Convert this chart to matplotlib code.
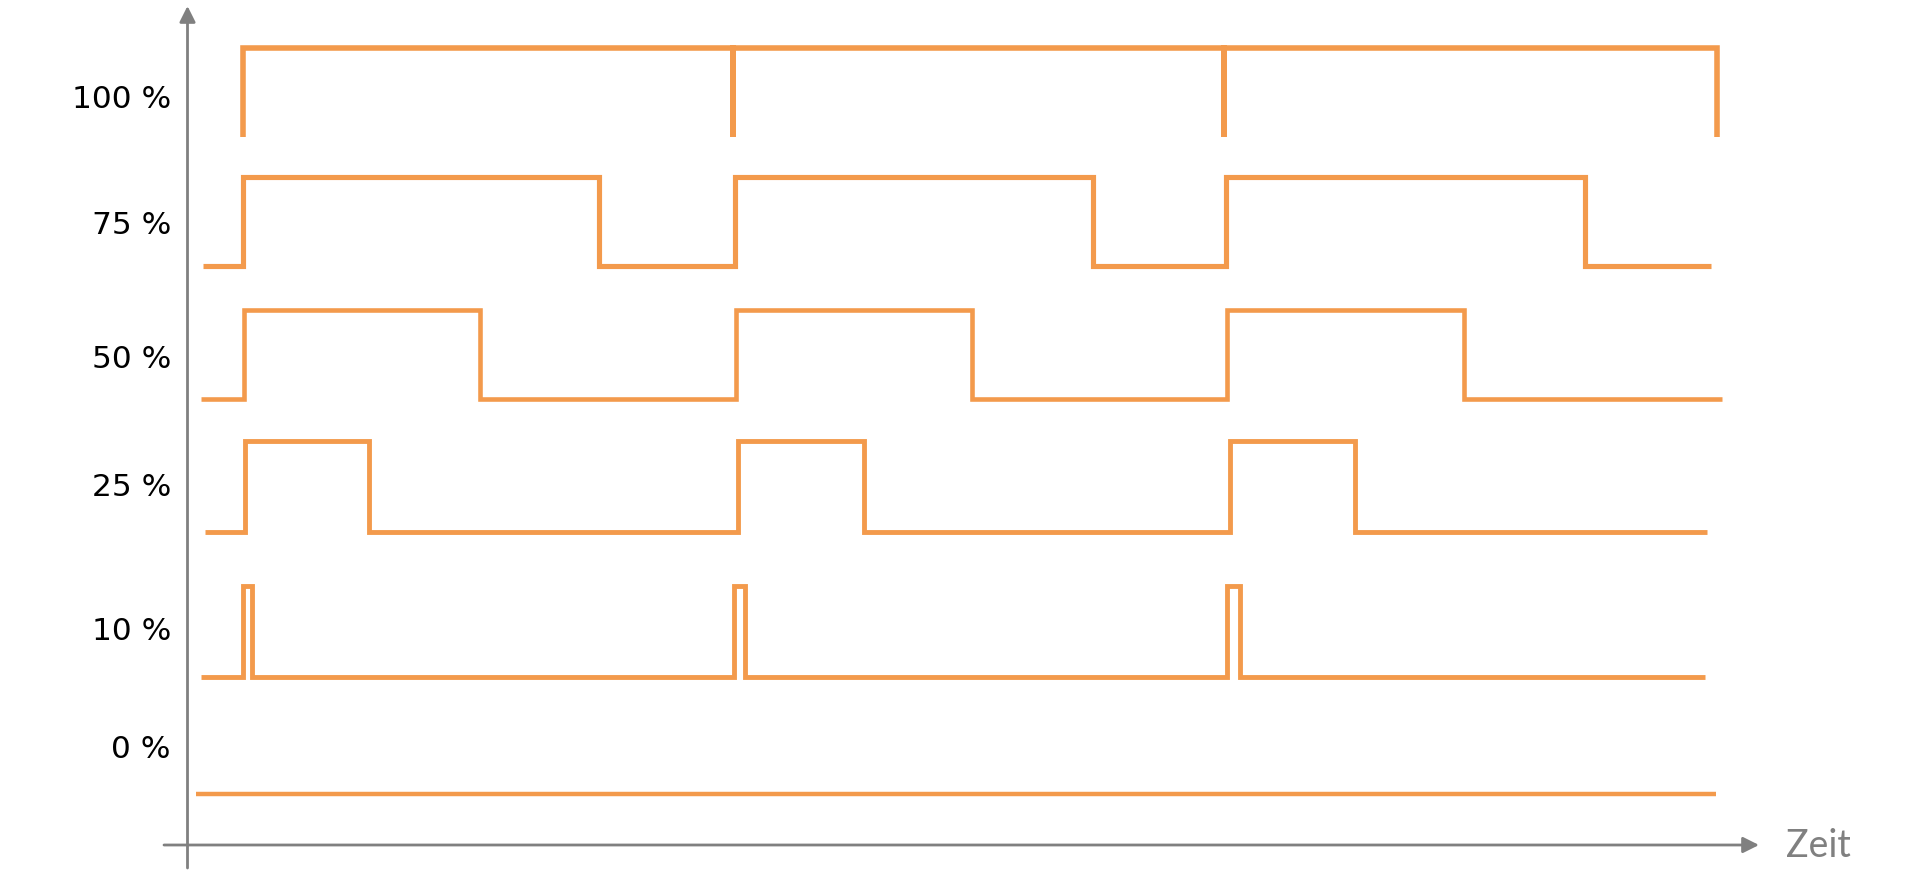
import matplotlib.pyplot as plt

# duty cycle labels and the signal edges (time in periods), level starts low and alternates
labels = ["100 %", "75 %", "50 %", "25 %", "10 %", "0 %"]
edges_100 = [0.0, 0.0, 0.997, 0.997, 1.997, 1.997, 3.002, 3.002]
edges_75 = [-0.082, 0.0, 0.726, 1.002, 1.731, 2.002, 2.733, 2.990]
edges_50 = [-0.085, 0.002, 0.483, 1.005, 1.485, 2.005, 2.487, 3.012]
edges_25 = [-0.077, 0.005, 0.256, 1.008, 1.264, 2.010, 2.264, 2.982]
edges_10 = [-0.085, 0.0, 0.018, 1.0, 1.022, 2.005, 2.030, 2.978]
edges_0 = [-0.095, 3.0]
signals = [edges_100, edges_75, edges_50, edges_25, edges_10, edges_0]

orange = "#F39A4C"
grey = "#808080"

# layout (pixels from top)
row_low = [137, 266, 399, 532, 677, 794]
row_amp = [89, 89, 89, 91, 91, 0]
row_lw = [4.0, 3.7, 3.3, 3.5, 3.5, 3.2]
label_y = [99, 225, 359, 487, 631, 749]

fig = plt.figure(figsize=(19.15, 8.91), dpi=100)
ax = fig.add_axes([0, 0, 1, 1])
x0, scale = 243, 491.0
ax.set_xlim(-x0 / scale, (1915 - x0) / scale)
ax.set_ylim(891, 0)
ax.axis("off")


def px(p):
    return (p - x0) / scale


for edges, low, amp, lw in zip(signals, row_low, row_amp, row_lw):
    xs, ys = [], []
    for i in range(len(edges) - 1):
        lev = i % 2
        y = low - amp * lev
        xs += [edges[i], edges[i + 1]]
        ys += [y, y]
    ax.plot(xs, ys, color=orange, lw=lw, solid_joinstyle="miter",
            solid_capstyle="butt")

for lab, y in zip(labels, label_y):
    ax.text(px(171), y, lab, ha="right", va="center", fontsize=22.5,
            family="DejaVu Sans", color="black")

# axes with arrow heads
ax.annotate("", xy=(px(187.5), 6), xytext=(px(187.5), 868),
            arrowprops=dict(arrowstyle="-|>", color=grey, lw=2,
                            mutation_scale=24, shrinkA=0, shrinkB=0))
ax.annotate("", xy=(px(1759), 845), xytext=(px(164), 845),
            arrowprops=dict(arrowstyle="-|>", color=grey, lw=2,
                            mutation_scale=24, shrinkA=0, shrinkB=0))
ax.text(px(1786), 846, "Zeit", ha="left", va="center", fontsize=27,
        family="Lato", color=grey)

fig.savefig("out.png", dpi=100)
